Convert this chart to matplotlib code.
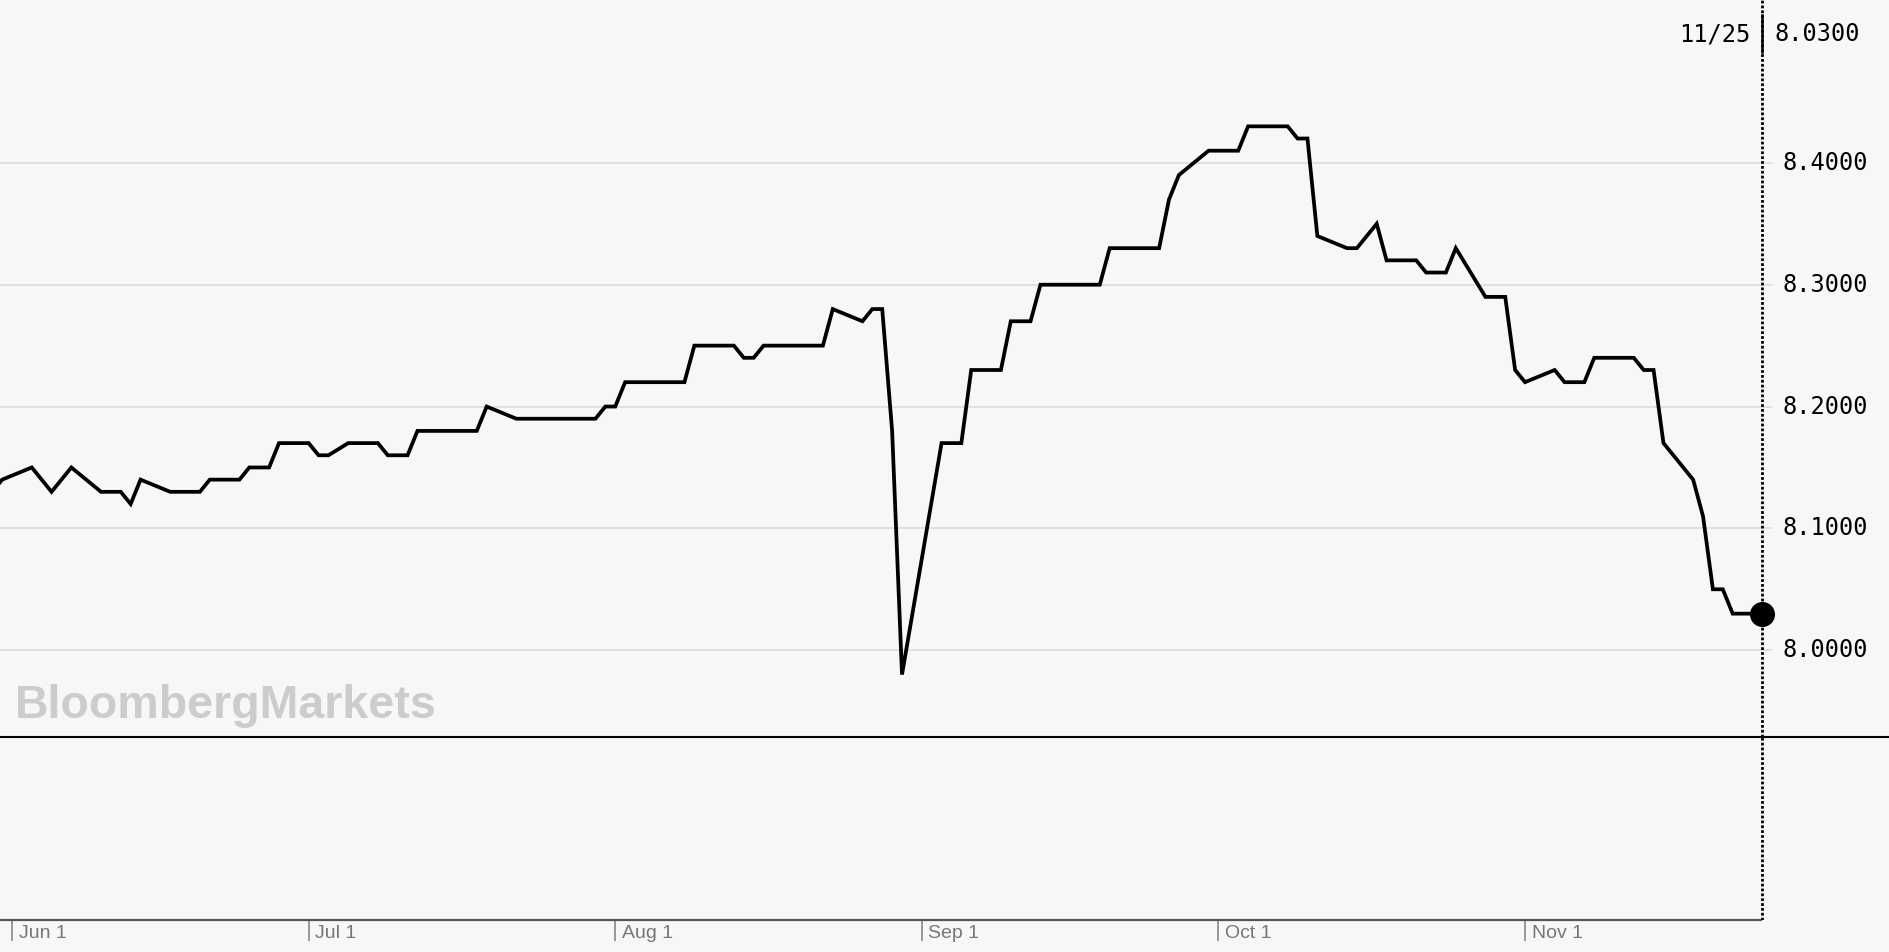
import numpy as np
import pandas as pd
import matplotlib
matplotlib.use("Agg")
import matplotlib.pyplot as plt
import matplotlib.dates as mdates
from matplotlib import transforms
from matplotlib.lines import Line2D

# daily closes, business days 2019-05-30 .. 2019-11-25 (no Jul 4, no Sep 2)
dates = pd.bdate_range("2019-05-30", "2019-11-25")
dates = dates.drop(pd.to_datetime(["2019-07-04", "2019-09-02"]))
values = [
    8.13, 8.14,
    8.15, 8.14, 8.13, 8.14, 8.15,
    8.13, 8.13, 8.13, 8.12, 8.14,
    8.13, 8.13, 8.13, 8.13, 8.14,
    8.14, 8.15, 8.15, 8.15, 8.17,
    8.17, 8.16, 8.16, 8.17,
    8.17, 8.16, 8.16, 8.16, 8.18,
    8.18, 8.18, 8.18, 8.18, 8.20,
    8.19, 8.19, 8.19, 8.19, 8.19,
    8.19, 8.19, 8.20, 8.20, 8.22,
    8.22, 8.22, 8.22, 8.22, 8.25,
    8.25, 8.25, 8.24, 8.24, 8.25,
    8.25, 8.25, 8.25, 8.25, 8.28,
    8.27, 8.28, 8.28, 8.18, 7.98,
    8.17, 8.17, 8.17, 8.23,
    8.23, 8.27, 8.27, 8.27, 8.30,
    8.30, 8.30, 8.30, 8.30, 8.33,
    8.33, 8.33, 8.33, 8.37, 8.39,
    8.41, 8.41, 8.41, 8.41, 8.43,
    8.43, 8.43, 8.42, 8.42, 8.34,
    8.33, 8.33, 8.34, 8.35, 8.32,
    8.32, 8.31, 8.31, 8.31, 8.33,
    8.29, 8.29, 8.29, 8.23, 8.22,
    8.23, 8.22, 8.22, 8.22, 8.24,
    8.24, 8.24, 8.23, 8.23, 8.17,
    8.14, 8.11, 8.05, 8.05, 8.03,
    8.03,
]
yticks = [8.0, 8.1, 8.2, 8.3, 8.4]
months = pd.date_range("2019-06-01", "2019-11-01", freq="MS")

W, H = 1890, 952
bg = "#f7f7f7"

def fy(py):
    return 1 - py / H

fig = plt.figure(figsize=(W / 100, H / 100), dpi=100, facecolor=bg)

jun1 = mdates.date2num(pd.Timestamp("2019-06-01"))
ppd = 9.889  # pixels per day
x0 = jun1 - 12 / ppd
x1 = jun1 + (1772 - 12) / ppd
last = dates[-1]
dotted = (0, (1.0, 0.75))

# price panel
ax = fig.add_axes([0, fy(736.7), 1772 / W, 736.7 / H])
ax.set_facecolor(bg)
ax.set_xlim(x0, x1)
ax.set_ylim(7.929, 8.5337)
for s in ax.spines.values():
    s.set_visible(False)
ax.set_yticks(yticks)
ax.set_xticks([])
ax.tick_params(length=0, labelleft=False, labelbottom=False)
ax.yaxis.grid(True, color="#d9d9d9", lw=1.1)
ax.set_axisbelow(True)

ax.plot(dates, values, color="black", lw=2.7, solid_joinstyle="miter")
ax.plot(last, values[-1], "o", ms=17, color="black", clip_on=False, zorder=5)
ax.axvline(last, color="black", lw=2.0, linestyle=dotted)

# empty lower panel with the date axis
ax2 = fig.add_axes([0, fy(920), 1772 / W, (920 - 736.7) / H])
ax2.set_facecolor(bg)
ax2.set_xlim(x0, x1)
ax2.set_ylim(0, 1)
for s in ax2.spines.values():
    s.set_visible(False)
ax2.set_yticks([])
ax2.set_xticks(months)
ax2.tick_params(axis="x", direction="out", length=15, width=1.2,
                color="#888888", labelbottom=False)
ax2.hlines(0, x0, mdates.date2num(last), color="#555555", lw=1.6, clip_on=False)
ax2.axvline(last, color="black", lw=2.0, linestyle=dotted)

lab_tr = transforms.offset_copy(ax2.transData, fig, x=4.8, y=-13, units="points")
for m in months:
    ax2.text(m, 0, m.strftime("%b ") + str(m.day), transform=lab_tr,
             ha="left", va="baseline", color="#777777", fontsize=14,
             family=["Liberation Sans", "DejaVu Sans"])

# right-hand value labels
mono = dict(family="DejaVu Sans Mono", fontsize=17, color="black")
ytr = transforms.blended_transform_factory(fig.transFigure, ax.transData)
for v in yticks:
    ax.text(1783 / W, v, f"{v:.4f}", transform=ytr, ha="left", va="center",
            clip_on=False, **mono)

fig.text(1775 / W, fy(34), f"{values[-1]:.4f}", ha="left", va="center", **mono)
fig.text(1750 / W, fy(34), f"{last.month}/{last.day}", ha="right", va="center", **mono)
sep_tr = transforms.blended_transform_factory(ax.transData, fig.transFigure)
fig.add_artist(Line2D([mdates.date2num(last)] * 2, [fy(15), fy(52)],
                      transform=sep_tr, color="black", lw=1.8))

# divider between panels
fig.add_artist(Line2D([0, 1], [fy(736.7)] * 2, transform=fig.transFigure,
                      color="black", lw=1.5))

fig.text(15 / W, fy(718), "BloombergMarkets", ha="left", va="baseline",
         fontsize=33.5, weight="bold", color="#cccccc",
         family=["Liberation Sans", "DejaVu Sans"])

fig.savefig("out.png", dpi=100, facecolor=bg)
